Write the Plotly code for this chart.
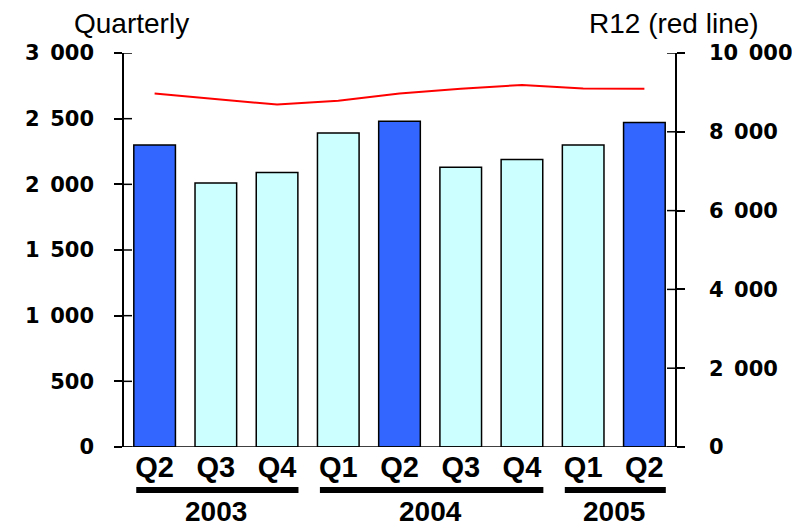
import plotly.graph_objects as go

quarters = ["Q2", "Q3", "Q4", "Q1", "Q2", "Q3", "Q4", "Q1", "Q2"]
years = ["2003", "2003", "2003", "2004", "2004", "2004", "2004", "2005", "2005"]
quarterly = [2300, 2010, 2090, 2390, 2480, 2130, 2190, 2300, 2470]
r12 = [8970, 8830, 8690, 8790, 8970, 9090, 9190, 9100, 9090]
left_ticks = [0, 500, 1000, 1500, 2000, 2500, 3000]
right_ticks = [0, 2000, 4000, 6000, 8000, 10000]

DARK = "#3366FF"
LIGHT = "#CCFFFF"

def fmt(v):
    return f"{v:,}".replace(",", "\u2002")

idx = list(range(len(quarters)))
colors = [DARK if q == "Q2" else LIGHT for q in quarters]

fig = go.Figure()
fig.add_trace(go.Bar(x=idx, y=quarterly, marker=dict(color=colors, line=dict(color="black", width=1.5)),
                     width=0.68, yaxis="y"))
fig.add_trace(go.Scatter(x=idx, y=r12, mode="lines", line=dict(color="#FF0000", width=2), yaxis="y2"))

tickfont = dict(family="DejaVu Sans", size=21, color="black", weight="bold")
fig.update_layout(
    width=800, height=527,
    margin=dict(l=116, r=133, t=45, b=88),
    plot_bgcolor="white", paper_bgcolor="white",
    showlegend=False,
    xaxis=dict(range=[-0.5, len(quarters) - 0.5], tickvals=idx, ticktext=quarters,
               showgrid=False, zeroline=False, showline=False, ticks="", automargin=False,
               tickfont=dict(family="Liberation Sans", size=29, color="black", weight="bold"),
               ticklabelstandoff=0),
    yaxis=dict(range=[0, 3000], tickvals=left_ticks, ticktext=[fmt(v) for v in left_ticks],
               showgrid=False, zeroline=False, showline=True, linecolor="black", linewidth=1.5,
               ticks="outside", ticklen=8, tickcolor="black", tickwidth=1.5, automargin=False,
               tickfont=tickfont, ticklabelstandoff=16),
    yaxis2=dict(range=[0, 10000], overlaying="y", side="right", tickvals=right_ticks,
                ticktext=[fmt(v) for v in right_ticks], automargin=False,
                showgrid=False, zeroline=False, showline=True, linecolor="black", linewidth=1.5,
                ticks="outside", ticklen=8, tickcolor="black", tickwidth=1.5,
                tickfont=tickfont, ticklabelstandoff=20),
)

shapes = []
# inside halves of crossing ticks
for v in left_ticks:
    shapes.append(dict(type="line", xref="paper", yref="y", x0=0, x1=8 / 551, y0=v, y1=v,
                       line=dict(color="black", width=1.5)))
for v in right_ticks:
    shapes.append(dict(type="line", xref="paper", yref="y2", x0=1 - 8 / 551, x1=1, y0=v, y1=v,
                       line=dict(color="black", width=1.5)))
# baseline extending to tick ends
shapes.append(dict(type="line", xref="paper", yref="y", x0=-8 / 551, x1=1 + 8 / 551, y0=0, y1=0,
                   line=dict(color="black", width=1.5)))

annotations = []
groups = []
for i, yv in enumerate(years):
    if not groups or groups[-1][0] != yv:
        groups.append([yv, i, i])
    else:
        groups[-1][2] = i
for yv, a, b in groups:
    shapes.append(dict(type="line", xref="x", yref="paper", x0=a - 0.3, x1=b + 0.35,
                       y0=-0.109, y1=-0.109, line=dict(color="black", width=6)))
    annotations.append(dict(xref="x", yref="paper", x=(a + b) / 2, y=-0.163, text=yv,
                            showarrow=False, xanchor="center", yanchor="middle",
                            font=dict(family="Liberation Sans", size=28, color="black", weight="bold")))

annotations.append(dict(xref="paper", yref="paper", x=0.0145, y=1.074, text="Quarterly",
                        showarrow=False, xanchor="center", yanchor="middle",
                        font=dict(family="Liberation Sans", size=28, color="black")))
annotations.append(dict(xref="paper", yref="paper", x=0.998, y=1.074, text="R12 (red line)",
                        showarrow=False, xanchor="center", yanchor="middle",
                        font=dict(family="Liberation Sans", size=28, color="black")))

fig.update_layout(shapes=shapes, annotations=annotations)
fig.write_html("out.html")
